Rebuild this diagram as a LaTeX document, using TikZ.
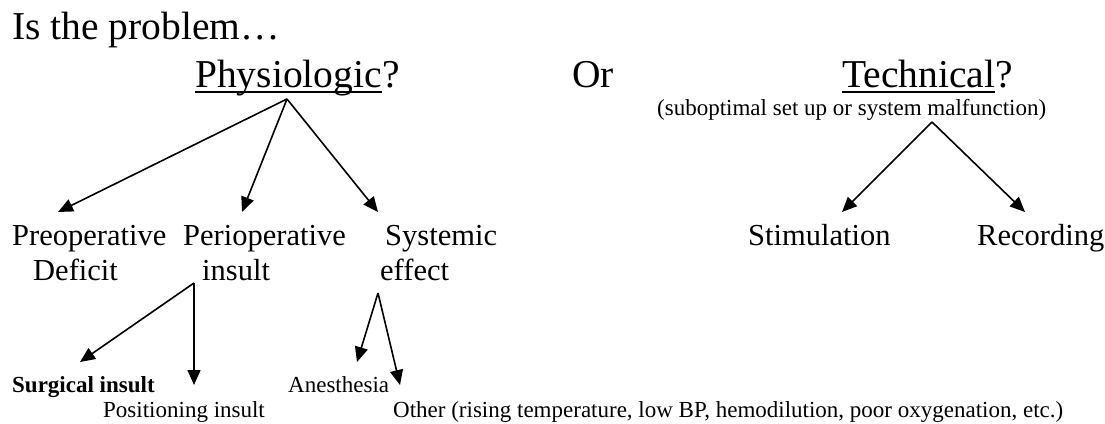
\documentclass[tikz,border=0pt]{standalone}
\usepackage{fontspec}
\setmainfont{Liberation Serif}
\usetikzlibrary{arrows.meta}
\begin{document}
\begin{tikzpicture}[x=1pt,y=-1pt,
  big/.style={font=\fontsize{39.5}{45}\selectfont, inner sep=0pt, anchor=base west},
  mid/.style={font=\fontsize{30.5}{35}\selectfont, inner sep=0pt, anchor=base west},
  small/.style={font=\fontsize{23}{26}\selectfont, inner sep=0pt, anchor=base west},
  arr/.style={-{Triangle[length=15pt,width=13pt]}, line width=1.6pt},
  uline/.style={line width=2pt}]
\useasboundingbox[fill=white] (0,0) rectangle (1105,423);
% headings
\node[big] (head) at (12,39) {Is the problem…};
\node[big] (phys) at (195,87) {Physiologic};
\node[big] (physq) at (phys.base east) {?};
\node[big] (or) at (572,87) {Or};
\node[big] (tech) at (842,87) {Technical};
\node[big] (techq) at (tech.base east) {?};
\draw[uline] ([yshift=-5pt]phys.base west) -- ([yshift=-5pt]phys.base east);
\draw[uline] ([yshift=-5pt]tech.base west) -- ([yshift=-5pt]tech.base east);
\node[small] (subopt) at (657,115) {(suboptimal set up or system malfunction)};
% second level
\node[mid] (preop1) at (12,245) {Preoperative};
\node[mid] (preop2) at (33,280) {Deficit};
\node[mid] (peri1) at (183,245) {Perioperative};
\node[mid] (peri2) at (202,280) {insult};
\node[mid] (sys1) at (385,245) {Systemic};
\node[mid] (sys2) at (380,280) {effect};
\node[mid] (stim) at (748,245) {Stimulation};
\node[mid] (rec) at (977,245) {Recording};
% third level
\node[small] (surg) at (12,392) {\bfseries Surgical insult};
\node[small] (anes) at (288,392) {Anesthesia};
\node[small] (pos) at (103,417) {Positioning insult};
\node[small] (other) at (393,417) {Other (rising temperature, low BP, hemodilution, poor oxygenation, etc.)};
% arrow apexes and tips
\coordinate (pA) at (287,99);
\coordinate (pT1) at (58,212);
\coordinate (pT2) at (242,212);
\coordinate (pT3) at (378,212);
\coordinate (tA) at (932,122);
\coordinate (tT1) at (842,212);
\coordinate (tT2) at (1025,212);
\coordinate (perA) at (194,283);
\coordinate (perT1) at (80,362);
\coordinate (perT2) at (194,385);
\coordinate (sysA) at (378,293);
\coordinate (sysT1) at (357,362);
\coordinate (sysT2) at (400,385);
\draw[arr] (pA) -- (pT1);
\draw[arr] (pA) -- (pT2);
\draw[arr] (pA) -- (pT3);
\draw[arr] (tA) -- (tT1);
\draw[arr] (tA) -- (tT2);
\draw[arr] (perA) -- (perT1);
\draw[arr] (perA) -- (perT2);
\draw[arr] (sysA) -- (sysT1);
\draw[arr] (sysA) -- (sysT2);
\end{tikzpicture}
\end{document}
